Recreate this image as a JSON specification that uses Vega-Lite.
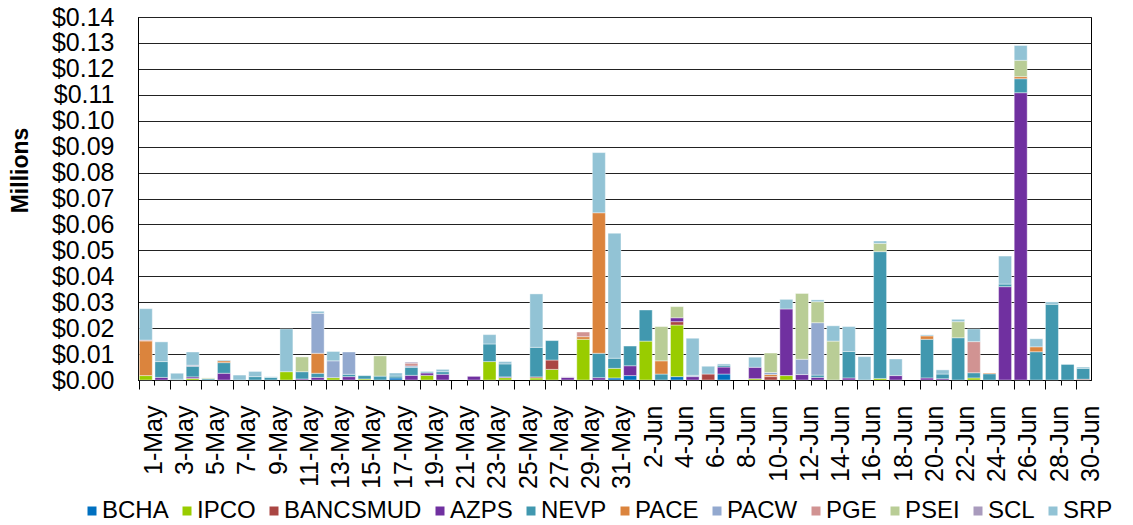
{
  "$schema": "https://vega.github.io/schema/vega-lite/v6.json",
  "width": 953,
  "height": 363,
  "autosize": {"type": "none"},
  "padding": {"left": 138, "top": 17, "right": 42, "bottom": 145},
  "background": "white",
  "config": {
    "font": "Liberation Sans",
    "view": {"stroke": "#000", "strokeWidth": 1}
  },
  "data": {"values": [
    {"d":"1-May","s":"IPCO","v":0.0017},{"d":"1-May","s":"PGE","v":0.0004},{"d":"1-May","s":"PACE","v":0.0133},{"d":"1-May","s":"SRP","v":0.0121},
    {"d":"2-May","s":"AZPS","v":0.001},{"d":"2-May","s":"NEVP","v":0.0061},{"d":"2-May","s":"SRP","v":0.0076},
    {"d":"3-May","s":"NEVP","v":0.0003},{"d":"3-May","s":"SRP","v":0.0023},
    {"d":"4-May","s":"IPCO","v":0.0006},{"d":"4-May","s":"AZPS","v":0.0006},{"d":"4-May","s":"NEVP","v":0.0041},{"d":"4-May","s":"SCL","v":0.0004},{"d":"4-May","s":"SRP","v":0.0051},
    {"d":"5-May","s":"NEVP","v":0.0005},{"d":"5-May","s":"PSEI","v":0.0003},
    {"d":"6-May","s":"AZPS","v":0.0026},{"d":"6-May","s":"NEVP","v":0.0041},{"d":"6-May","s":"PACE","v":0.0007},{"d":"6-May","s":"SRP","v":0.0003},
    {"d":"7-May","s":"SRP","v":0.0019},
    {"d":"8-May","s":"NEVP","v":0.0013},{"d":"8-May","s":"SRP","v":0.002},
    {"d":"9-May","s":"NEVP","v":0.001},{"d":"9-May","s":"SRP","v":0.0003},
    {"d":"10-May","s":"IPCO","v":0.0032},{"d":"10-May","s":"SRP","v":0.0165},
    {"d":"11-May","s":"AZPS","v":0.0004},{"d":"11-May","s":"NEVP","v":0.0028},{"d":"11-May","s":"PSEI","v":0.0057},
    {"d":"12-May","s":"AZPS","v":0.001},{"d":"12-May","s":"NEVP","v":0.0016},{"d":"12-May","s":"PACE","v":0.0077},{"d":"12-May","s":"PACW","v":0.0154},{"d":"12-May","s":"SRP","v":0.0008},
    {"d":"13-May","s":"IPCO","v":0.0009},{"d":"13-May","s":"PACW","v":0.0065},{"d":"13-May","s":"SRP","v":0.0036},
    {"d":"14-May","s":"AZPS","v":0.0013},{"d":"14-May","s":"NEVP","v":0.0009},{"d":"14-May","s":"PACW","v":0.0086},
    {"d":"15-May","s":"IPCO","v":0.0004},{"d":"15-May","s":"NEVP","v":0.0013},{"d":"15-May","s":"SRP","v":0.0002},
    {"d":"16-May","s":"NEVP","v":0.0015},{"d":"16-May","s":"PSEI","v":0.0078},
    {"d":"17-May","s":"BCHA","v":0.0008},{"d":"17-May","s":"NEVP","v":0.0007},{"d":"17-May","s":"SRP","v":0.0012},
    {"d":"18-May","s":"AZPS","v":0.0018},{"d":"18-May","s":"NEVP","v":0.0031},{"d":"18-May","s":"PACW","v":0.0005},{"d":"18-May","s":"PGE","v":0.0011},{"d":"18-May","s":"SCL","v":0.0004},
    {"d":"19-May","s":"IPCO","v":0.0018},{"d":"19-May","s":"AZPS","v":0.0009},{"d":"19-May","s":"SRP","v":0.0006},
    {"d":"20-May","s":"AZPS","v":0.0022},{"d":"20-May","s":"NEVP","v":0.001},{"d":"20-May","s":"SRP","v":0.0009},
    {"d":"22-May","s":"AZPS","v":0.0014},
    {"d":"23-May","s":"IPCO","v":0.0071},{"d":"23-May","s":"NEVP","v":0.0068},{"d":"23-May","s":"SRP","v":0.0036},
    {"d":"24-May","s":"IPCO","v":0.0009},{"d":"24-May","s":"AZPS","v":0.0003},{"d":"24-May","s":"NEVP","v":0.005},{"d":"24-May","s":"SRP","v":0.0009},
    {"d":"26-May","s":"IPCO","v":0.0008},{"d":"26-May","s":"BANCSMUD","v":0.0004},{"d":"26-May","s":"NEVP","v":0.0114},{"d":"26-May","s":"SRP","v":0.0206},
    {"d":"27-May","s":"IPCO","v":0.0041},{"d":"27-May","s":"BANCSMUD","v":0.0036},{"d":"27-May","s":"NEVP","v":0.0075},
    {"d":"28-May","s":"AZPS","v":0.001},{"d":"28-May","s":"SCL","v":0.0002},
    {"d":"29-May","s":"IPCO","v":0.0157},{"d":"29-May","s":"PACE","v":0.001},{"d":"29-May","s":"PGE","v":0.0018},
    {"d":"30-May","s":"AZPS","v":0.0009},{"d":"30-May","s":"NEVP","v":0.0094},{"d":"30-May","s":"PACE","v":0.0542},{"d":"30-May","s":"SRP","v":0.0232},
    {"d":"31-May","s":"BCHA","v":0.0008},{"d":"31-May","s":"IPCO","v":0.0037},{"d":"31-May","s":"NEVP","v":0.0039},{"d":"31-May","s":"SRP","v":0.0482},
    {"d":"1-Jun","s":"BCHA","v":0.0017},{"d":"1-Jun","s":"AZPS","v":0.0038},{"d":"1-Jun","s":"NEVP","v":0.0076},
    {"d":"2-Jun","s":"IPCO","v":0.015},{"d":"2-Jun","s":"NEVP","v":0.012},
    {"d":"3-Jun","s":"NEVP","v":0.0023},{"d":"3-Jun","s":"PACE","v":0.0051},{"d":"3-Jun","s":"PSEI","v":0.0132},
    {"d":"4-Jun","s":"BCHA","v":0.0013},{"d":"4-Jun","s":"IPCO","v":0.0199},{"d":"4-Jun","s":"BANCSMUD","v":0.0013},{"d":"4-Jun","s":"AZPS","v":0.0015},{"d":"4-Jun","s":"PSEI","v":0.0043},
    {"d":"5-Jun","s":"AZPS","v":0.0013},{"d":"5-Jun","s":"PACW","v":0.0005},{"d":"5-Jun","s":"SRP","v":0.0143},
    {"d":"6-Jun","s":"BANCSMUD","v":0.0023},{"d":"6-Jun","s":"SRP","v":0.003},
    {"d":"7-Jun","s":"BCHA","v":0.0023},{"d":"7-Jun","s":"AZPS","v":0.0027},{"d":"7-Jun","s":"NEVP","v":0.0007},{"d":"7-Jun","s":"SRP","v":0.0005},
    {"d":"9-Jun","s":"IPCO","v":0.0005},{"d":"9-Jun","s":"AZPS","v":0.0044},{"d":"9-Jun","s":"SRP","v":0.0039},
    {"d":"10-Jun","s":"BANCSMUD","v":0.0013},{"d":"10-Jun","s":"PACE","v":0.0008},{"d":"10-Jun","s":"PACW","v":0.0008},{"d":"10-Jun","s":"PSEI","v":0.0075},
    {"d":"11-Jun","s":"IPCO","v":0.0017},{"d":"11-Jun","s":"AZPS","v":0.0257},{"d":"11-Jun","s":"SRP","v":0.0037},
    {"d":"12-Jun","s":"AZPS","v":0.0021},{"d":"12-Jun","s":"PACW","v":0.0059},{"d":"12-Jun","s":"PSEI","v":0.0254},
    {"d":"13-Jun","s":"AZPS","v":0.001},{"d":"13-Jun","s":"NEVP","v":0.0009},{"d":"13-Jun","s":"PACW","v":0.0202},{"d":"13-Jun","s":"PSEI","v":0.0081},{"d":"13-Jun","s":"SRP","v":0.0007},
    {"d":"14-Jun","s":"PSEI","v":0.015},{"d":"14-Jun","s":"SRP","v":0.0059},
    {"d":"15-Jun","s":"AZPS","v":0.0008},{"d":"15-Jun","s":"NEVP","v":0.0102},{"d":"15-Jun","s":"SRP","v":0.0096},
    {"d":"16-Jun","s":"SRP","v":0.009},
    {"d":"17-Jun","s":"IPCO","v":0.0006},{"d":"17-Jun","s":"NEVP","v":0.0489},{"d":"17-Jun","s":"PSEI","v":0.0032},{"d":"17-Jun","s":"SRP","v":0.0009},
    {"d":"18-Jun","s":"AZPS","v":0.0017},{"d":"18-Jun","s":"SRP","v":0.0064},
    {"d":"20-Jun","s":"AZPS","v":0.0008},{"d":"20-Jun","s":"NEVP","v":0.0149},{"d":"20-Jun","s":"PACE","v":0.0013},{"d":"20-Jun","s":"SRP","v":0.0004},
    {"d":"21-Jun","s":"AZPS","v":0.0005},{"d":"21-Jun","s":"NEVP","v":0.0018},{"d":"21-Jun","s":"SRP","v":0.0016},
    {"d":"22-Jun","s":"NEVP","v":0.0163},{"d":"22-Jun","s":"PSEI","v":0.0062},{"d":"22-Jun","s":"SRP","v":0.0009},
    {"d":"23-Jun","s":"IPCO","v":0.0008},{"d":"23-Jun","s":"NEVP","v":0.002},{"d":"23-Jun","s":"PGE","v":0.012},{"d":"23-Jun","s":"SRP","v":0.0049},
    {"d":"24-Jun","s":"NEVP","v":0.0024},{"d":"24-Jun","s":"PACE","v":0.0003},
    {"d":"25-Jun","s":"AZPS","v":0.036},{"d":"25-Jun","s":"NEVP","v":0.001},{"d":"25-Jun","s":"SRP","v":0.0108},
    {"d":"26-Jun","s":"AZPS","v":0.1108},{"d":"26-Jun","s":"NEVP","v":0.0054},{"d":"26-Jun","s":"PACE","v":0.0008},{"d":"26-Jun","s":"PSEI","v":0.0063},{"d":"26-Jun","s":"SRP","v":0.0057},
    {"d":"27-Jun","s":"NEVP","v":0.0109},{"d":"27-Jun","s":"PACE","v":0.0019},{"d":"27-Jun","s":"SRP","v":0.0031},
    {"d":"28-Jun","s":"NEVP","v":0.0292},{"d":"28-Jun","s":"SRP","v":0.0009},
    {"d":"29-Jun","s":"NEVP","v":0.006},
    {"d":"30-Jun","s":"BANCSMUD","v":0.0003},{"d":"30-Jun","s":"NEVP","v":0.0042},{"d":"30-Jun","s":"SRP","v":0.0005}
  ]},
  "resolve": {"axis": {"x": "independent"}},
  "layer": [
    {
      "transform": [
        {"calculate": "indexof(['BCHA','IPCO','BANCSMUD','AZPS','NEVP','PACE','PACW','PGE','PSEI','SCL','SRP'], datum.s)", "as": "rank"}
      ],
      "mark": {"type": "bar", "stroke": "#ffffff", "strokeWidth": 0.8, "strokeOpacity": 0.5},
      "encoding": {
        "x": {
          "field": "d", "type": "nominal",
          "scale": {"domain": ["1-May","2-May","3-May","4-May","5-May","6-May","7-May","8-May","9-May","10-May","11-May","12-May","13-May","14-May","15-May","16-May","17-May","18-May","19-May","20-May","21-May","22-May","23-May","24-May","25-May","26-May","27-May","28-May","29-May","30-May","31-May","1-Jun","2-Jun","3-Jun","4-Jun","5-Jun","6-Jun","7-Jun","8-Jun","9-Jun","10-Jun","11-Jun","12-Jun","13-Jun","14-Jun","15-Jun","16-Jun","17-Jun","18-Jun","19-Jun","20-Jun","21-Jun","22-Jun","23-Jun","24-Jun","25-Jun","26-Jun","27-Jun","28-Jun","29-Jun","30-Jun"], "paddingInner": 0.17, "paddingOuter": 0.085},
          "axis": {
            "orient": "bottom", "title": null,
            "values": ["1-May","3-May","5-May","7-May","9-May","11-May","13-May","15-May","17-May","19-May","21-May","23-May","25-May","27-May","29-May","31-May","2-Jun","4-Jun","6-Jun","8-Jun","10-Jun","12-Jun","14-Jun","16-Jun","18-Jun","20-Jun","22-Jun","24-Jun","26-Jun","28-Jun","30-Jun"],
            "bandPosition": 0, "labelOffset": 7.8,
            "labelAngle": -90, "labelAlign": "right", "labelBaseline": "middle",
            "labelFontSize": 25, "labelColor": "#000", "labelPadding": 16,
            "ticks": true, "tickSize": 9, "tickColor": "#000", "tickWidth": 1,
            "domain": true, "domainColor": "#000", "domainWidth": 1, "grid": false,
            "labelOverlap": false
          }
        },
        "y": {
          "field": "v", "type": "quantitative", "aggregate": "sum",
          "scale": {"domain": [0, 0.14]},
          "axis": {
            "title": "Millions", "titleFontSize": 23, "titleFontWeight": "bold", "titleColor": "#000",
            "titleX": -106, "titleY": 153,
            "values": [0,0.01,0.02,0.03,0.04,0.05,0.06,0.07,0.08,0.09,0.1,0.11,0.12,0.13,0.14],
            "format": "$.2f", "labelFontSize": 25, "labelColor": "#000", "labelPadding": 24,
            "ticks": false, "grid": true, "gridColor": "#222", "gridWidth": 1,
            "domain": true, "domainColor": "#000"
          }
        },
        "order": {"field": "rank", "type": "quantitative", "sort": "ascending"},
        "color": {
          "field": "s", "type": "nominal",
          "scale": {
            "domain": ["BCHA","IPCO","BANCSMUD","AZPS","NEVP","PACE","PACW","PGE","PSEI","SCL","SRP"],
            "range": ["#0070C0","#99CC00","#AA4643","#7030A0","#4198AF","#DB843D","#93A9CF","#D19392","#B9CD96","#A99BBD","#92C3D5"]
          },
          "legend": {
            "orient": "none", "legendX": -58, "legendY": 482, "direction": "horizontal",
            "title": null, "symbolType": "square", "symbolSize": 81, "symbolStrokeWidth": 0,
            "labelFontSize": 24, "labelColor": "#000", "labelOffset": -2, "columnPadding": 6
          }
        }
      }
    },
    {
      "mark": {"type": "bar", "opacity": 0},
      "encoding": {
        "x": {
          "field": "d", "type": "nominal",
          "axis": {
            "orient": "bottom", "title": null, "bandPosition": 0,
            "labels": false, "ticks": true, "tickSize": 5, "tickColor": "#000",
            "domain": false, "grid": false
          }
        },
        "y": {
          "field": "v", "type": "quantitative", "aggregate": "sum",
          "scale": {"domain": [0, 0.14]},
          "axis": {
            "title": "Millions", "titleFontSize": 23, "titleFontWeight": "bold", "titleColor": "#000",
            "titleX": -106, "titleY": 153,
            "values": [0,0.01,0.02,0.03,0.04,0.05,0.06,0.07,0.08,0.09,0.1,0.11,0.12,0.13,0.14],
            "format": "$.2f", "labelFontSize": 25, "labelColor": "#000", "labelPadding": 24,
            "ticks": false, "grid": true, "gridColor": "#222", "gridWidth": 1,
            "domain": true, "domainColor": "#000"
          }
        }
      }
    }
  ]
}
